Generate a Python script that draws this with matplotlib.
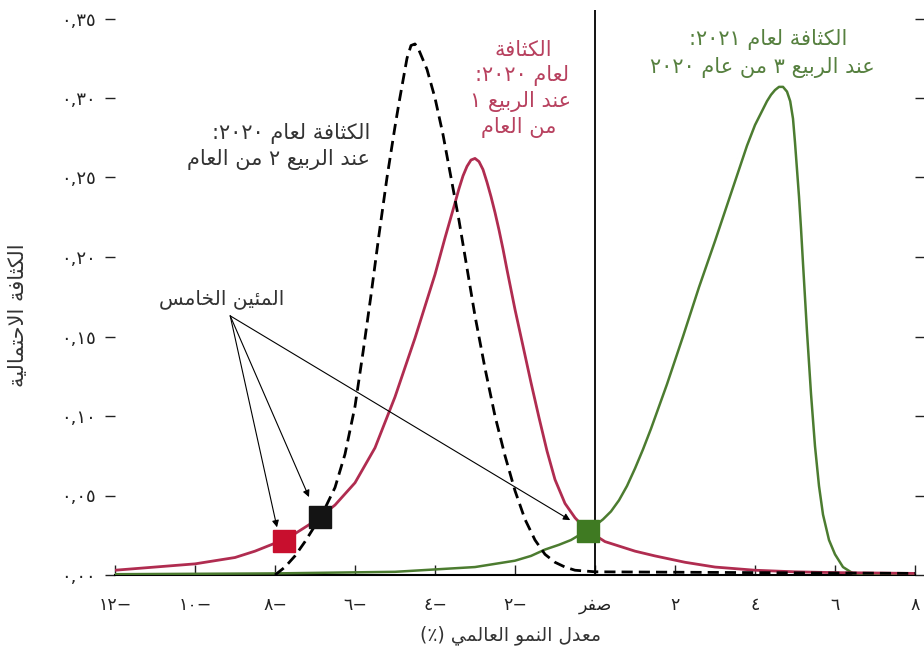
import re

import matplotlib

matplotlib.use("Agg")
import matplotlib.pyplot as plt

W, H = 924, 650

# ---------------------------------------------------------------------------
# Data
# ---------------------------------------------------------------------------

# density, 2020 forecast made in Q2 (dashed)
q2_x = [-8.0, -7.75, -7.5, -7.25, -7.0, -6.75, -6.5, -6.25, -6.0, -5.8, -5.6,
        -5.4, -5.2, -5.0, -4.9, -4.8, -4.7, -4.6, -4.5, -4.4, -4.2, -4.0, -3.8,
        -3.6, -3.4, -3.2, -3.0, -2.75, -2.5, -2.25, -2.0, -1.75, -1.5, -1.25,
        -1.0, -0.75, -0.5, 0.0, 8.0]
q2_y = [0.000, 0.005, 0.012, 0.021, 0.031, 0.042, 0.055, 0.076, 0.106, 0.140,
        0.176, 0.214, 0.250, 0.282, 0.297, 0.311, 0.325, 0.333, 0.334, 0.330,
        0.318, 0.300, 0.277, 0.250, 0.223, 0.193, 0.163, 0.130, 0.100, 0.075,
        0.053, 0.035, 0.022, 0.013, 0.008, 0.005, 0.003, 0.002, 0.001]

# density, 2020 forecast made in Q1 (red)
q1_x = [-12.0, -11.0, -10.0, -9.0, -8.5, -8.0, -7.5, -7.0, -6.5, -6.0, -5.5,
        -5.0, -4.5, -4.25, -4.0, -3.75, -3.5, -3.4, -3.3, -3.2, -3.1, -3.0,
        -2.9, -2.8, -2.7, -2.6, -2.5, -2.4, -2.3, -2.2, -2.0, -1.8, -1.6, -1.4,
        -1.2, -1.0, -0.75, -0.5, -0.2, 0.0, 0.25, 0.5, 0.75, 1.0, 1.5, 2.25,
        3.0, 4.0, 5.0, 6.0, 8.0]
q1_y = [0.003, 0.005, 0.007, 0.011, 0.015, 0.020, 0.026, 0.034, 0.044, 0.058,
        0.080, 0.112, 0.149, 0.169, 0.189, 0.212, 0.234, 0.243, 0.251, 0.257,
        0.261, 0.262, 0.260, 0.255, 0.247, 0.238, 0.228, 0.217, 0.205, 0.192,
        0.167, 0.144, 0.121, 0.099, 0.078, 0.060, 0.045, 0.036, 0.028, 0.025,
        0.021, 0.019, 0.017, 0.015, 0.012, 0.008, 0.005, 0.003, 0.002, 0.0015,
        0.001]

# density, 2021 forecast made in Q3 2020 (green)
q3_x = [-12.0, -8.0, -5.0, -3.0, -2.0, -1.6, -1.25, -0.9, -0.6, -0.2, 0.0, 0.2,
        0.4, 0.6, 0.8, 1.0, 1.2, 1.4, 1.6, 1.8, 2.0, 2.2, 2.6, 3.0, 3.4, 3.6,
        3.8, 4.0, 4.2, 4.3, 4.4, 4.5, 4.6, 4.7, 4.8, 4.88, 4.95, 5.0, 5.05,
        5.1, 5.15, 5.2, 5.3, 5.4, 5.5, 5.6, 5.7, 5.85, 6.0, 6.2, 6.45, 8.0]
q3_y = [0.0005, 0.001, 0.002, 0.005, 0.009, 0.012, 0.016, 0.019, 0.022, 0.028,
        0.031, 0.035, 0.040, 0.047, 0.056, 0.067, 0.079, 0.092, 0.106, 0.120,
        0.135, 0.150, 0.181, 0.210, 0.240, 0.255, 0.270, 0.283, 0.293, 0.298,
        0.302, 0.305, 0.307, 0.307, 0.304, 0.298, 0.287, 0.272, 0.255, 0.238,
        0.218, 0.196, 0.153, 0.114, 0.081, 0.056, 0.038, 0.022, 0.013, 0.005,
        0.001, 0.000]

# fifth percentiles (x, density)
p5_x = [-7.78, -6.88, -0.18]
p5_y = [0.0215, 0.0365, 0.0278]

x_ticks = [-12, -10, -8, -6, -4, -2, 0, 2, 4, 6, 8]
x_tick_labels = ["−١٢", "−١٠", "−٨", "−٦", "−٤", "−٢", "صفر", "٢", "٤", "٦", "٨"]
y_ticks = [0.0, 0.05, 0.10, 0.15, 0.20, 0.25, 0.30, 0.35]
y_tick_labels = ["٠,٠٠", "٠,٠٥", "٠,١٠", "٠,١٥", "٠,٢٠", "٠,٢٥", "٠,٣٠", "٠,٣٥"]

label_q2 = ["الكثافة لعام ٢٠٢٠:", "عند الربيع ٢ من العام"]
label_q1 = ["الكثافة", "لعام ٢٠٢٠:", "عند الربيع ١", "من العام"]
label_q3 = ["الكثافة لعام ٢٠٢١:", "عند الربيع ٣ من عام ٢٠٢٠"]
label_p5 = "المئين الخامس"
x_label = "معدل النمو العالمي (٪)"
y_label = "الكثافة الاحتمالية"

RED = "#b02c50"
GREEN = "#4c7c30"
RED_TXT = "#b8415f"
GREEN_TXT = "#56803f"
DARK_TXT = "#333333"

# ---------------------------------------------------------------------------
# Minimal Arabic shaping + right-to-left ordering (matplotlib has no shaper)
# ---------------------------------------------------------------------------

FORMS = {
    "\u0626": "\uFE89\uFE8A\uFE8B\uFE8C",
    "\u0627": "\uFE8D\uFE8E",
    "\u0628": "\uFE8F\uFE90\uFE91\uFE92",
    "\u0629": "\uFE93\uFE94",
    "\u062A": "\uFE95\uFE96\uFE97\uFE98",
    "\u062B": "\uFE99\uFE9A\uFE9B\uFE9C",
    "\u062D": "\uFEA1\uFEA2\uFEA3\uFEA4",
    "\u062E": "\uFEA5\uFEA6\uFEA7\uFEA8",
    "\u062F": "\uFEA9\uFEAA",
    "\u0631": "\uFEAD\uFEAE",
    "\u0633": "\uFEB1\uFEB2\uFEB3\uFEB4",
    "\u0635": "\uFEB9\uFEBA\uFEBB\uFEBC",
    "\u0639": "\uFEC9\uFECA\uFECB\uFECC",
    "\u0641": "\uFED1\uFED2\uFED3\uFED4",
    "\u0643": "\uFED9\uFEDA\uFEDB\uFEDC",
    "\u0644": "\uFEDD\uFEDE\uFEDF\uFEE0",
    "\u0645": "\uFEE1\uFEE2\uFEE3\uFEE4",
    "\u0646": "\uFEE5\uFEE6\uFEE7\uFEE8",
    "\u0648": "\uFEED\uFEEE",
    "\u064A": "\uFEF1\uFEF2\uFEF3\uFEF4",
}
NUM_RUN = re.compile("[\u0660-\u0669]+(?:[,\u066B][\u0660-\u0669]+)*")


def ar(text: str) -> str:
    chars = [c for c in text if not ("\u064B" <= c <= "\u0652")]
    out = []
    i, n = 0, len(chars)
    while i < n:
        c = chars[i]
        forms = FORMS.get(c)
        if forms is None:
            out.append(c)
            i += 1
            continue
        prev = chars[i - 1] if i > 0 else ""
        join_prev = len(FORMS.get(prev, "")) == 4
        if c == "\u0644" and i + 1 < n and chars[i + 1] == "\u0627":
            out.append("\uFEFC" if join_prev else "\uFEFB")
            i += 2
            continue
        nxt = chars[i + 1] if i + 1 < n else ""
        join_next = len(forms) == 4 and nxt in FORMS
        if join_prev and join_next:
            out.append(forms[3])
        elif join_prev:
            out.append(forms[1])
        elif join_next:
            out.append(forms[2])
        else:
            out.append(forms[0])
        i += 1
    s = "".join(out)[::-1]
    s = NUM_RUN.sub(lambda m: m.group(0)[::-1], s)
    return s.translate(str.maketrans("()", ")("))


def fpx(x, y):
    """Image pixel -> figure fraction."""
    return x / W, 1 - y / H


# ---------------------------------------------------------------------------
# Plot
# ---------------------------------------------------------------------------

plt.rcParams["font.family"] = ["DejaVu Sans"]

fig = plt.figure(figsize=(W / 100, H / 100), dpi=100)
ax = fig.add_axes([115 / W, 75 / H, 800 / W, 565 / H])
ax.set_xlim(-12, 8)
ax.set_ylim(0, 565 / 1590)

ax.plot(q3_x, q3_y, color=GREEN, lw=1.8, zorder=3)
ax.plot(q1_x, q1_y, color=RED, lw=2.0, zorder=4)
ax.plot(q2_x, q2_y, color="black", lw=2.0, ls=(0, (4, 2.2)), zorder=5)
ax.axvline(0, color="black", lw=1.3, zorder=2)

for xv, yv, col in zip(p5_x, p5_y, ["#c80f2e", "#141414", "#3f7a22"]):
    ax.plot([xv], [yv], marker="s", ms=16, color=col, mec=col, zorder=6, clip_on=False)

for sp in ("left", "right", "top"):
    ax.spines[sp].set_visible(False)
ax.spines["bottom"].set_linewidth(1.5)

ax.set_xticks(x_ticks)
ax.set_xticklabels([ar(t) for t in x_tick_labels])
ax.set_yticks(y_ticks)
ax.set_yticklabels([ar(t) for t in y_tick_labels])
ax.tick_params(axis="x", direction="in", length=7, width=1, pad=15, labelsize=12.5,
               colors="#222222")
ax.tick_params(axis="y", direction="out", length=7, width=1, left=True, right=True,
               labelsize=13, pad=7, colors="#222222")

# annotations
for line, yy in zip(label_q2, [133, 160]):
    fig.text(*fpx(370, yy), ar(line), ha="right", va="center", fontsize=15, color=DARK_TXT)
for line, xx, yy in zip(label_q1, [523, 522, 521, 519], [50, 76, 102, 128]):
    fig.text(*fpx(xx, yy), ar(line), ha="center", va="center", fontsize=15, color=RED_TXT)
for line, xx, yy in zip(label_q3, [768, 762], [40, 67]):
    fig.text(*fpx(xx, yy), ar(line), ha="center", va="center", fontsize=15, color=GREEN_TXT)
fig.text(*fpx(222, 299), ar(label_p5), ha="center", va="center", fontsize=14.5, color=DARK_TXT)

apex = (-9.12, 0.163)
for tip in [(-7.95, 0.0300), (-7.15, 0.0490), (-0.62, 0.0345)]:
    ax.annotate("", xy=tip, xytext=apex,
                arrowprops=dict(arrowstyle="-|>", color="black", lw=0.8,
                                mutation_scale=10, shrinkA=0, shrinkB=0),
                zorder=7)

fig.text(*fpx(510, 635), ar(x_label), ha="center", va="center", fontsize=13.5, color=DARK_TXT)
fig.text(*fpx(18, 315), ar(y_label), ha="center", va="center", rotation=90,
         fontsize=15, color=DARK_TXT)

fig.savefig("out.png", dpi=100)
